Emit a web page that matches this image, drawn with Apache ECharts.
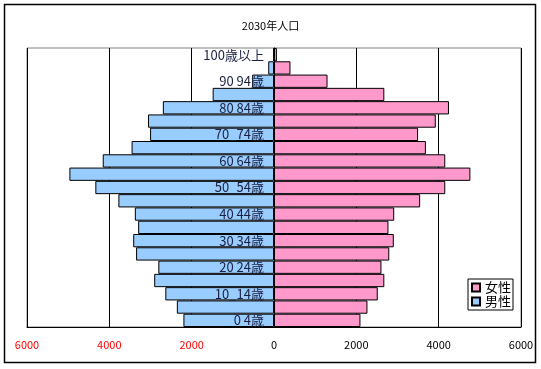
<!DOCTYPE html>
<html><head><meta charset="utf-8">
<script src="https://cdn.jsdelivr.net/npm/echarts@6/dist/echarts.min.js"></script>
<style>html,body{margin:0;padding:0;background:#fff}#c{width:541px;height:369px}</style>
</head><body><div id="c"></div>
<script>
const categories = ['0 4歳','5 9歳','10_14歳','15 19歳','20 24歳','25 29歳','30 34歳','35 39歳','40 44歳','45 49歳','50_54歳','55 59歳','60 64歳','65 69歳','70_74歳','75 79歳','80 84歳','85 89歳','90 94歳','95 99歳','100歳以上'];
const male = [2200, 2360, 2640, 2910, 2810, 3350, 3420, 3300, 3380, 3780, 4340, 4970, 4160, 3460, 3010, 3060, 2700, 1490, 530, 140, 15];
const female = [2100, 2270, 2520, 2680, 2610, 2800, 2910, 2780, 2920, 3550, 4160, 4770, 4160, 3690, 3500, 3930, 4250, 2680, 1300, 400, 70];
const xTicks = {min: -6000, max: 6000, interval: 2000};
const title = '2030年人口';

const gridLeft = 27, gridRight = 20, W = 541;
const halfWidth = (W - gridLeft - gridRight) / 2;

const chart = echarts.init(document.getElementById('c'), null, {renderer: 'canvas'});
chart.setOption({
  animation: false,
  backgroundColor: '#fff',
  title: {text: title, left: 'center', top: 15, textStyle: {fontSize: 11, fontWeight: 'normal', color: '#000', fontFamily: 'Noto Sans CJK JP'}},
  graphic: [{type: 'rect', shape: {x: 4.5, y: 4.5, width: 531, height: 358}, style: {fill: 'none', stroke: '#000', lineWidth: 1.5}, z: 100}],
  legend: {
    data: ['女性', '男性'], orient: 'vertical', left: 468, top: 279,
    padding: [2, 2, 2, 3], itemGap: 1, itemWidth: 8, itemHeight: 8, icon: 'rect',
    backgroundColor: '#fff', borderColor: '#000', borderWidth: 1,
    textStyle: {fontSize: 13, color: '#000', fontFamily: 'Noto Sans CJK JP'}
  },
  grid: {left: gridLeft, right: gridRight, top: 48, bottom: 42, show: true, borderColor: '#808080', borderWidth: 1,
         containLabel: false, outerBoundsMode: 'none'},
  xAxis: {
    type: 'value', min: xTicks.min, max: xTicks.max, interval: xTicks.interval,
    axisLine: {show: true, onZero: false, lineStyle: {color: '#000'}},
    axisTick: {show: false},
    splitLine: {show: true, lineStyle: {color: '#000', width: 1}},
    axisLabel: {
      fontSize: 11, margin: 12, fontFamily: 'Noto Sans CJK JP',
      formatter: v => String(Math.abs(v)),
      color: v => (Number(v) < 0 ? '#ff0000' : '#000')
    }
  },
  yAxis: {
    type: 'category', data: categories, z: 10, offset: -halfWidth,
    axisLine: {show: true, onZero: false, lineStyle: {color: '#000'}},
    axisTick: {show: false},
    axisLabel: {interval: 1, fontSize: 13, color: '#1a2040', margin: 10, fontFamily: 'Noto Sans CJK JP'}
  },
  series: [
    {name: '女性', type: 'bar', data: female, barGap: '-100%', barCategoryGap: '0%',
     itemStyle: {color: '#ff99cc', borderColor: '#000', borderWidth: 1}},
    {name: '男性', type: 'bar', data: male.map(v => -v), barGap: '-100%', barCategoryGap: '0%',
     itemStyle: {color: '#99ccff', borderColor: '#000', borderWidth: 1}}
  ]
});
</script></body></html>
